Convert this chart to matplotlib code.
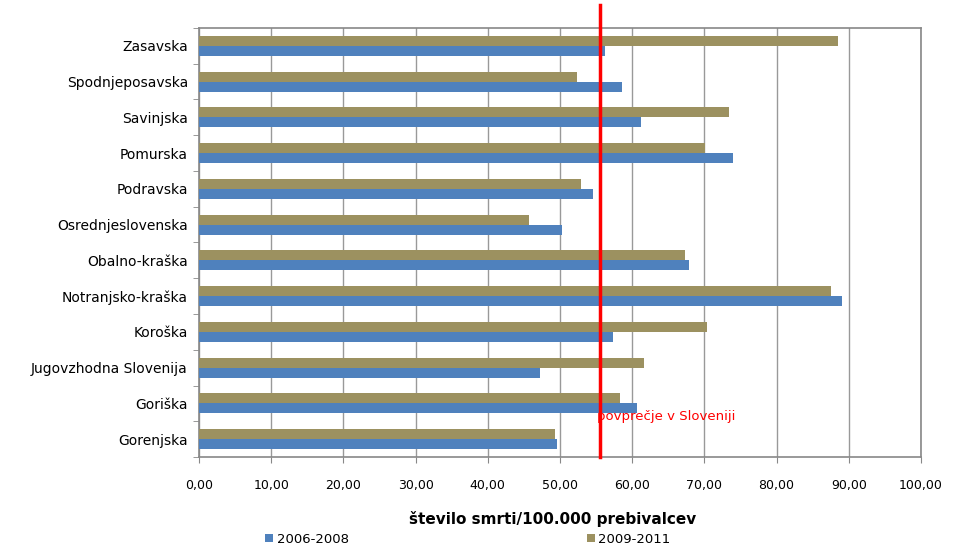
import matplotlib
matplotlib.use("Agg")
import matplotlib.pyplot as plt
import numpy as np

regions = ["Gorenjska", "Goriška", "Jugovzhodna Slovenija", "Koroška",
           "Notranjsko-kraška", "Obalno-kraška", "Osrednjeslovenska",
           "Podravska", "Pomurska", "Savinjska", "Spodnjeposavska", "Zasavska"]
rate_2006_2008 = [49.6, 60.7, 47.2, 57.3, 89.1, 67.9, 50.3, 54.6, 74.0, 61.2, 58.6, 56.2]
rate_2009_2011 = [49.3, 58.3, 61.6, 70.4, 87.5, 67.3, 45.7, 52.9, 70.1, 73.4, 52.4, 88.5]
slo_average = 55.5
xticks = np.arange(0, 101, 10)

blue = "#4F81BD"
gold = "#9C9160"

fig = plt.figure(figsize=(9.67, 5.48), dpi=100)
ax = fig.add_axes([0.2058, 0.166, 0.7466, 0.783])

y = np.arange(len(regions))
h = 0.28
ax.barh(y - h / 2, rate_2006_2008, height=h, color=blue, label="2006-2008", zorder=3)
ax.barh(y + h / 2, rate_2009_2011, height=h, color=gold, label="2009-2011", zorder=3)

ax.set_xlim(0, 100)
ax.set_ylim(-0.5, len(regions) - 0.5)
ax.set_xticks(xticks)
ax.set_xticklabels([f"{v:.2f}".replace(".", ",") for v in xticks], fontsize=9)
ax.set_yticks(y)
ax.set_yticklabels(regions, fontsize=10)
ax.set_yticks(np.arange(-0.5, len(regions), 1), minor=True)
ax.tick_params(axis="y", which="major", length=0, pad=8)
ax.tick_params(axis="y", which="minor", length=4, color="#888888")
ax.tick_params(axis="x", length=4, color="#888888", pad=12)

ax.grid(axis="x", color="#999999", linewidth=1, zorder=0)
for s in ax.spines.values():
    s.set_color("#888888")
    s.set_linewidth(1.2)

# national average line, reaching above the plot area
ax.plot([slo_average, slo_average], [-0.5, len(regions) - 0.5 + 0.63],
        color="#FF0000", linewidth=2.5, clip_on=False, zorder=5)
ax.text(slo_average - 0.4, 0.62, "povprečje v Sloveniji", color="#FF0000",
        fontsize=9.5, va="center", ha="left", zorder=6)

ax.set_xlabel("število smrti/100.000 prebivalcev", fontsize=11, fontweight="bold")
ax.xaxis.set_label_coords(0.49, -0.125)

handles, labels = ax.get_legend_handles_labels()
fig.legend(handles, labels, loc="center left", bbox_to_anchor=(0.262, 0.016),
           ncol=2, frameon=False, fontsize=9.5, handlelength=0.6, handleheight=0.6,
           handletextpad=0.3, columnspacing=18)

fig.savefig("out.png", dpi=100)
